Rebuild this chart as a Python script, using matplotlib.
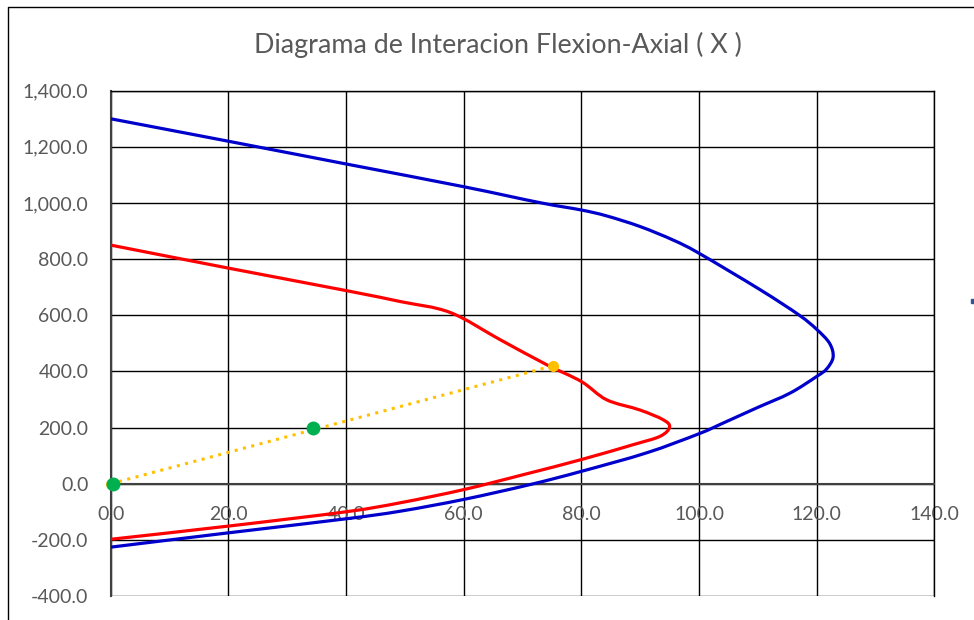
import matplotlib
matplotlib.use("Agg")
import numpy as np
import matplotlib.pyplot as plt
from matplotlib.lines import Line2D
from matplotlib.path import Path
from matplotlib.patches import PathPatch

plt.rcParams['font.family'] = ['Lato', 'DejaVu Sans']

# nominal capacity curve (blue)
blue_m = [0, 20, 40, 60, 73, 80, 84.3, 90, 95.6, 100, 110.4, 117, 120, 122.2,
          122.8, 121.7, 120, 115.5, 109.8, 104.1, 100, 91.1, 80, 71.3, 60, 49.2,
          40, 20, 0]
blue_p = [1300, 1220, 1139, 1058, 1001, 975, 954, 916, 868, 821, 691, 601, 550, 500,
          451, 409, 382, 323, 270, 216, 178, 110, 44, -3, -56, -98,
          -125, -175, -226]

# design capacity curve (red)
red_m = [0, 20, 40, 49.2, 57.7, 66.2, 74.1, 80, 84.3, 89.9, 93.9, 95, 93.4,
         88.8, 80, 70.1, 60, 49.2, 40, 20, 0]
red_p = [850, 768, 688, 649, 610, 513, 424, 364, 299, 263, 228, 202, 169,
         139, 86, 32, -21, -68, -100, -151, -198]

# ray from origin
ray_m = [0, 75.2]
ray_p = [0, 420]

# applied loads
load_m = [0.4, 34.4]
load_p = [0, 197]

xticks = [0, 20, 40, 60, 80, 100, 120, 140]
yticks = [-400, -200, 0, 200, 400, 600, 800, 1000, 1200, 1400]


def smooth_path(ax, xs, ys):
    # Excel-like smoothed line: cubic bezier segments through the data points,
    # control points taken in display space so the curve does not depend on axis scale
    pts = ax.transData.transform(np.column_stack([xs, ys]))
    n = len(pts)
    verts = [pts[0]]
    codes = [Path.MOVETO]
    t = 1.0 / 6.0
    for i in range(n - 1):
        p0 = pts[i - 1] if i > 0 else pts[i]
        p1 = pts[i]
        p2 = pts[i + 1]
        p3 = pts[i + 2] if i + 2 < n else pts[i + 1]
        c1 = p1 + (p2 - p0) * t
        c2 = p2 - (p3 - p1) * t
        verts += [c1, c2, p2]
        codes += [Path.CURVE4] * 3
    data_verts = ax.transData.inverted().transform(np.array(verts))
    return Path(data_verts, codes)


fig = plt.figure(figsize=(9.74, 6.2), dpi=100)
ax = fig.add_axes([110.7 / 974, 1 - 596 / 620, (934.3 - 110.7) / 974, (596 - 90.7) / 620])
ax.set_xlim(0, 140)
ax.set_ylim(-400, 1400)

for xs, ys, col in [(blue_m, blue_p, '#0000CC'), (red_m, red_p, '#FF0000')]:
    ax.add_patch(PathPatch(smooth_path(ax, xs, ys), fill=False, edgecolor=col, lw=2.3,
                           joinstyle='round', capstyle='butt', zorder=3))

ax.plot(ray_m, ray_p, color='#FFC000', lw=2.2, ls=(0, (1, 1.8)), marker='o', ms=7,
        zorder=4, clip_on=False)
ax.plot(load_m, load_p, ls='none', marker='o', color='#00B050', ms=9, zorder=5, clip_on=False)

ax.set_xticks(xticks)
ax.set_yticks(yticks)
ax.set_xticklabels([f"{v:,.1f}" for v in xticks])
ax.set_yticklabels([f"{v:,.1f}" for v in yticks])
ax.grid(True, color='black', lw=1.0)
ax.set_axisbelow(True)

ax.spines['bottom'].set_position(('data', 0))
for s in ['bottom', 'left']:
    ax.spines[s].set_color('#404040')
    ax.spines[s].set_linewidth(1.5)
for s in ['top', 'right']:
    ax.spines[s].set_color('black')
    ax.spines[s].set_linewidth(1.0)
ax.tick_params(length=0, labelsize=14, labelcolor='#595959')
ax.tick_params(axis='x', pad=16)
ax.tick_params(axis='y', pad=16)

fig.text(0.511, 0.927, "Diagrama de Interacion Flexion-Axial ( X )", ha='center', va='center',
         fontsize=19.4, color='#595959')

# chart border (cropped)
fig.add_artist(Line2D([7.5 / 974, 7.5 / 974, 1], [0, 1 - 6.5 / 620, 1 - 6.5 / 620],
                      color='black', lw=1.0))
# fragment of the legend at the right edge
fig.add_artist(Line2D([972.7 / 974], [1 - 300.7 / 620], marker='s', ms=2.5,
                      color='#2F5597', ls='none'))

fig.savefig("out.png", dpi=100)
